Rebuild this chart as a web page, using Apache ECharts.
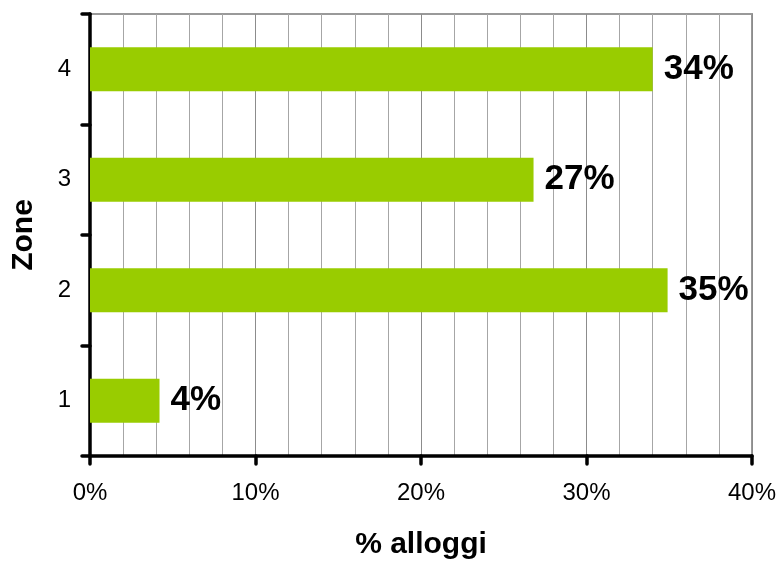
<!DOCTYPE html>
<html><head><meta charset="utf-8">
<script src="https://cdn.jsdelivr.net/npm/echarts@6/dist/echarts.min.js"></script>
<style>html,body{margin:0;padding:0;background:#fff}#c{width:783px;height:565px}</style>
</head><body><div id="c"></div>
<script>
const categories = ['1', '2', '3', '4'];
const values = [4.2, 34.9, 26.8, 34.0];
const labels = ['4%', '35%', '27%', '34%'];
const xTicks = [0, 10, 20, 30, 40];

const chart = echarts.init(document.getElementById('c'));
chart.setOption({
  animation: false,
  textStyle: { fontFamily: 'Liberation Sans, Arial, sans-serif' },
  grid: { left: 90, right: 31, top: 14, bottom: 106, show: true, borderColor: '#999999', borderWidth: 2 },
  xAxis: {
    type: 'value', min: xTicks[0], max: xTicks[xTicks.length - 1], interval: 10,
    name: '% alloggi', nameLocation: 'middle', nameGap: 74,
    nameTextStyle: { fontSize: 30, fontWeight: 'bold', color: '#000' },
    axisLine: { show: true, lineStyle: { color: '#000', width: 3.5, cap: 'round' } },
    axisTick: { show: true, length: 8, lineStyle: { color: '#000', width: 3.5, cap: 'round' } },
    axisLabel: { formatter: v => v + '%', fontSize: 24, color: '#000', margin: 25 },
    splitLine: { show: true, lineStyle: { color: '#8c8c8c', width: 1 } },
    minorTick: { show: false, splitNumber: 5 },
    minorSplitLine: { show: true, lineStyle: { color: '#a6a6a6', width: 1 } }
  },
  yAxis: {
    type: 'category', data: categories,
    name: 'Zone', nameLocation: 'middle', nameGap: 51,
    nameTextStyle: { fontSize: 30, fontWeight: 'bold', color: '#000' },
    axisLine: { show: true, lineStyle: { color: '#000', width: 3.5, cap: 'round' } },
    axisTick: { show: true, length: 8, alignWithLabel: false, lineStyle: { color: '#000', width: 3.5, cap: 'round' } },
    axisLabel: { fontSize: 24, color: '#000', margin: 19 },
    splitLine: { show: false }
  },
  series: [{
    type: 'bar', data: values, barWidth: '40%',
    itemStyle: { color: '#99cc00' },
    label: {
      show: true, position: 'right', distance: 11,
      formatter: p => labels[p.dataIndex],
      fontSize: 35, fontWeight: 'bold', color: '#000'
    }
  }]
});
</script></body></html>
